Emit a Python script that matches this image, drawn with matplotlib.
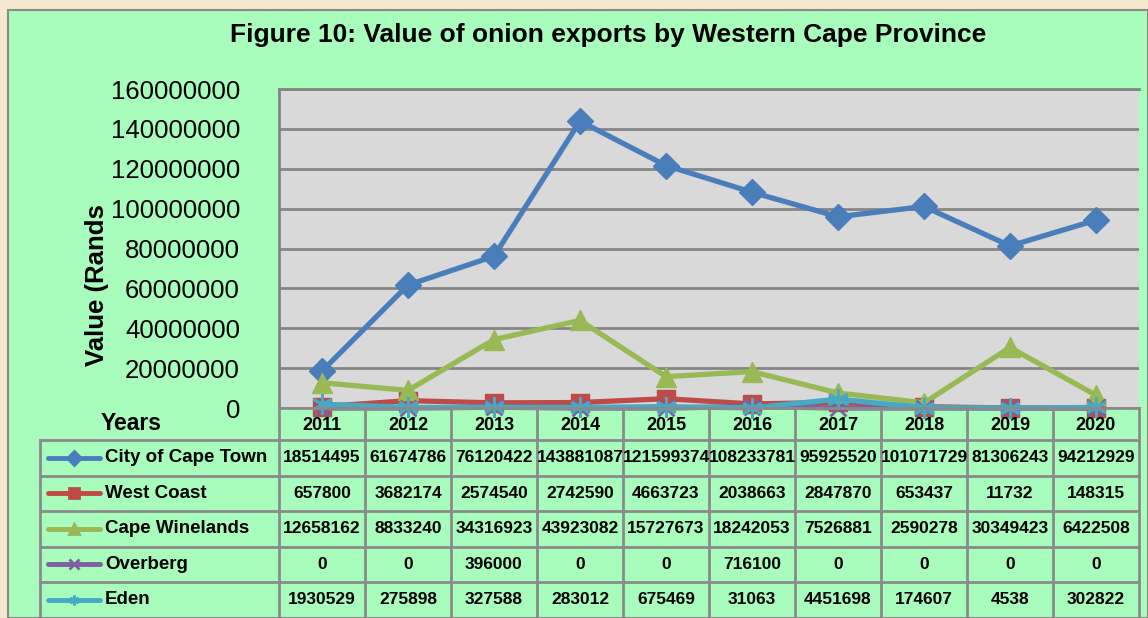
import numpy as np
import matplotlib.pyplot as plt
from matplotlib.patches import Rectangle

plt.rcParams['font.family'] = ['Liberation Sans', 'DejaVu Sans']

years = ['2011', '2012', '2013', '2014', '2015', '2016', '2017', '2018', '2019', '2020']
city_of_cape_town = [18514495, 61674786, 76120422, 143881087, 121599374,
                     108233781, 95925520, 101071729, 81306243, 94212929]
west_coast = [657800, 3682174, 2574540, 2742590, 4663723,
              2038663, 2847870, 653437, 11732, 148315]
cape_winelands = [12658162, 8833240, 34316923, 43923082, 15727673,
                  18242053, 7526881, 2590278, 30349423, 6422508]
overberg = [0, 0, 396000, 0, 0, 716100, 0, 0, 0, 0]
eden = [1930529, 275898, 327588, 283012, 675469,
        31063, 4451698, 174607, 4538, 302822]

series = [
    ('City of Cape Town', city_of_cape_town, '#4a7ebb', 'D', 13.5),
    ('West Coast', west_coast, '#be4b48', 's', 13.5),
    ('Cape Winelands', cape_winelands, '#98b954', '^', 15),
    ('Overberg', overberg, '#7d60a0', 'x', 11),
    ('Eden', eden, '#46aac5', (6, 2, 0), 15),
]

W, H = 1148, 618
fig = plt.figure(figsize=(W / 100, H / 100), dpi=100)
fig.patch.set_facecolor('#f6e8cf')

# green chart panel
fig.patches.append(Rectangle((8 / W, 0), (W - 8) / W, (H - 10) / H, transform=fig.transFigure,
                             facecolor='#a8fcbc', edgecolor='#8a8a8a', linewidth=1.5, zorder=-5))

left, right, top, bottom = 279, 1139, 89, 408
ax = fig.add_axes([left / W, 1 - bottom / H, (right - left) / W, (bottom - top) / H])
ax.set_facecolor('#d9d9d9')
x = np.arange(len(years))
for name, vals, col, mk, ms in series:
    ax.plot(x, vals, color=col, lw=3.8, marker=mk, markersize=ms,
            markeredgewidth=2 if mk in ('x', (6, 2, 0)) else 1, markeredgecolor=col, clip_on=False)
ax.set_xlim(-0.5, len(years) - 0.5)
ax.set_ylim(0, 160000000)
ax.set_yticks(np.arange(0, 160000001, 20000000))
ax.yaxis.set_major_formatter(plt.FuncFormatter(lambda v, p: '%d' % v))
ax.tick_params(axis='y', length=0, pad=28, labelsize=18.5)
ax.set_xticks([])
ax.grid(axis='y', color='#858585', lw=2)
ax.set_axisbelow(True)
for s in ['right', 'bottom']:
    ax.spines[s].set_visible(False)
for s in ['left', 'top']:
    ax.spines[s].set_color('#858585')
    ax.spines[s].set_linewidth(2)

fig.text(608 / W, 1 - 35 / H, 'Figure 10: Value of onion exports by Western Cape Province',
         ha='center', va='center', fontsize=19, fontweight='bold')
fig.text(97 / W, 1 - 285 / H, 'Value (Rands', rotation=90, ha='center', va='center',
         fontsize=18.5, fontweight='bold')
fig.text(131 / W, 1 - 424 / H, 'Years', ha='center', va='center', fontsize=16.5, fontweight='bold')

# data table under the plot, in pixel units
tab = fig.add_axes([0, 0, 1, 1], facecolor='none')
tab.set_xlim(0, W)
tab.set_ylim(H, 0)
tab.axis('off')
colw = (right - left) / len(years)
row_edges = [440, 475.5, 511, 546.5, 582, 617.5]
gc = '#8a8a8a'
for i in range(len(years) + 1):
    tab.plot([left + i * colw] * 2, [bottom, H], color=gc, lw=2)
tab.plot([40, 40], [440, H], color=gc, lw=2)
tab.plot([left, right], [bottom, bottom], color=gc, lw=2)
for yy in row_edges:
    tab.plot([40, right], [yy, yy], color=gc, lw=2)
for i, yr in enumerate(years):
    tab.text(left + (i + 0.5) * colw, 425, yr, ha='center', va='center', fontsize=13, fontweight='bold')
for r, (name, vals, col, mk, ms) in enumerate(series):
    yc = (row_edges[r] + row_edges[r + 1]) / 2
    tab.plot([48, 100], [yc, yc], color=col, lw=3.5, solid_capstyle='round')
    tab.plot([74], [yc], color=col, marker=mk, markersize=7, markeredgewidth=2)
    tab.text(105, yc, name, ha='left', va='center', fontsize=13.5, fontweight='bold')
    for i, v in enumerate(vals):
        tab.text(left + (i + 0.5) * colw, yc, '%d' % v, ha='center', va='center',
                 fontsize=12.5, fontweight='bold')

fig.savefig('out.png', dpi=100, facecolor=fig.get_facecolor())
